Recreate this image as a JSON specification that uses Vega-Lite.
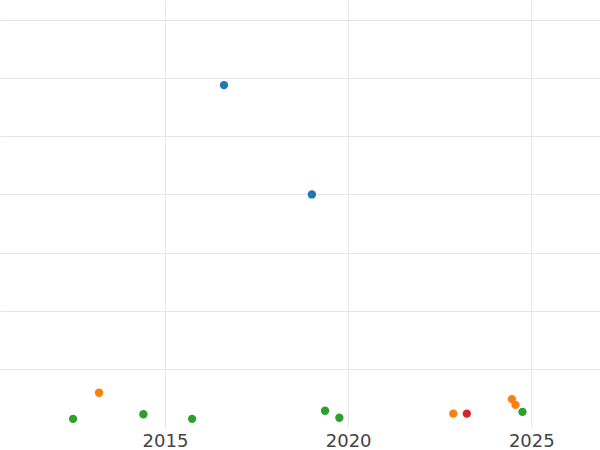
{
  "$schema": "https://vega.github.io/schema/vega-lite/v6.json",
  "width": 600,
  "height": 427,
  "autosize": {"type": "none"},
  "padding": {"left": 0, "top": 0, "right": 0, "bottom": 23},
  "background": "white",
  "config": {"view": {"stroke": null}},
  "data": {
    "values": [
      {"year": 2012.49, "value": 1.4, "group": "C"},
      {"year": 2013.20, "value": 5.9, "group": "B"},
      {"year": 2014.41, "value": 2.2, "group": "C"},
      {"year": 2015.74, "value": 1.4, "group": "C"},
      {"year": 2016.61, "value": 58.8, "group": "A"},
      {"year": 2019.01, "value": 40.0, "group": "A"},
      {"year": 2019.37, "value": 2.8, "group": "C"},
      {"year": 2019.76, "value": 1.6, "group": "C"},
      {"year": 2022.87, "value": 2.3, "group": "B"},
      {"year": 2023.24, "value": 2.3, "group": "D"},
      {"year": 2024.47, "value": 4.8, "group": "B"},
      {"year": 2024.57, "value": 3.8, "group": "B"},
      {"year": 2024.76, "value": 2.6, "group": "C"}
    ]
  },
  "mark": {"type": "circle", "size": 70, "opacity": 1},
  "encoding": {
    "x": {
      "field": "year", "type": "quantitative",
      "scale": {"domain": [2010.495, 2026.876], "nice": false, "zero": false},
      "axis": {
        "title": null, "values": [2015, 2020, 2025], "format": "d",
        "domain": false, "ticks": false, "grid": true, "gridColor": "#e6e6e6",
        "labelFontSize": 18, "labelColor": "#444444", "labelFont": "DejaVu Sans",
        "labelPadding": 5
      }
    },
    "y": {
      "field": "value", "type": "quantitative",
      "scale": {"domain": [0, 73.44], "nice": false},
      "axis": {
        "title": null, "values": [10, 20, 30, 40, 50, 60, 70],
        "labels": false, "domain": false, "ticks": false, "grid": true, "gridColor": "#e6e6e6"
      }
    },
    "color": {
      "field": "group", "type": "nominal",
      "scale": {"domain": ["A", "B", "C", "D"], "range": ["#1f77b4", "#ff7f0e", "#2ca02c", "#d62728"]},
      "legend": null
    }
  }
}
